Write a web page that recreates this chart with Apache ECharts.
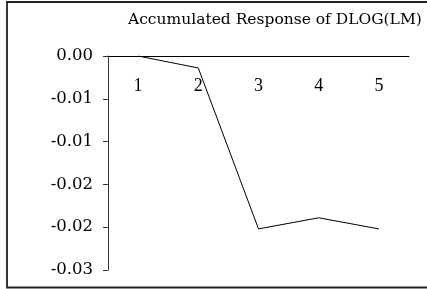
<!DOCTYPE html>
<html><head><meta charset="utf-8">
<script src="https://cdn.jsdelivr.net/npm/echarts@6/dist/echarts.min.js"></script>
<style>html,body{margin:0;padding:0;background:#fff}#c{width:427px;height:289px}</style>
</head><body><div id="c"></div>
<script>
const categories = ['1','2','3','4','5'];
const response = [0.0, -0.0014, -0.0202, -0.0189, -0.0202];
const yTickLabels = ['0.00','-0.01','-0.01','-0.02','-0.02','-0.03'];
const titleText = 'Accumulated Response of DLOG(LM)';

const chart = echarts.init(document.getElementById('c'), null, {renderer:'canvas'});
const serif = '"Liberation Serif","DejaVu Serif",serif';
const wideSerif = '"DejaVu Serif",serif';
chart.setOption({
  animation:false,
  backgroundColor:'#fff',
  graphic:[{type:'rect',shape:{x:7,y:2,width:500,height:285.5},style:{fill:'none',stroke:'#222',lineWidth:1.8},silent:true}],
  title:{text:titleText,left:123,top:7,textStyle:{fontFamily:wideSerif,fontSize:15.5,fontWeight:'normal',color:'#000'}},
  grid:{left:108,right:18,top:56,bottom:19,containLabel:false},
  xAxis:{type:'category',data:categories,position:'top',boundaryGap:true,
    axisLine:{lineStyle:{color:'#000',width:1}},
    axisTick:{inside:true,length:5,lineStyle:{color:'#000'}},
    axisLabel:{inside:true,margin:21,fontFamily:serif,fontSize:18,color:'#000',verticalAlign:'top'}},
  yAxis:{type:'value',min:-0.025,max:0,interval:0.005,
    axisLine:{show:true,lineStyle:{color:'#333',width:1}},
    axisTick:{show:true,length:5,lineStyle:{color:'#333'}},
    splitLine:{show:false},
    axisLabel:{margin:15,fontFamily:wideSerif,fontSize:16.5,color:'#000',
      formatter:function(v){return yTickLabels[Math.round(-v/0.005)];}}},
  series:[{type:'line',data:response,symbol:'none',lineStyle:{color:'#000',width:1}}]
});
</script></body></html>
